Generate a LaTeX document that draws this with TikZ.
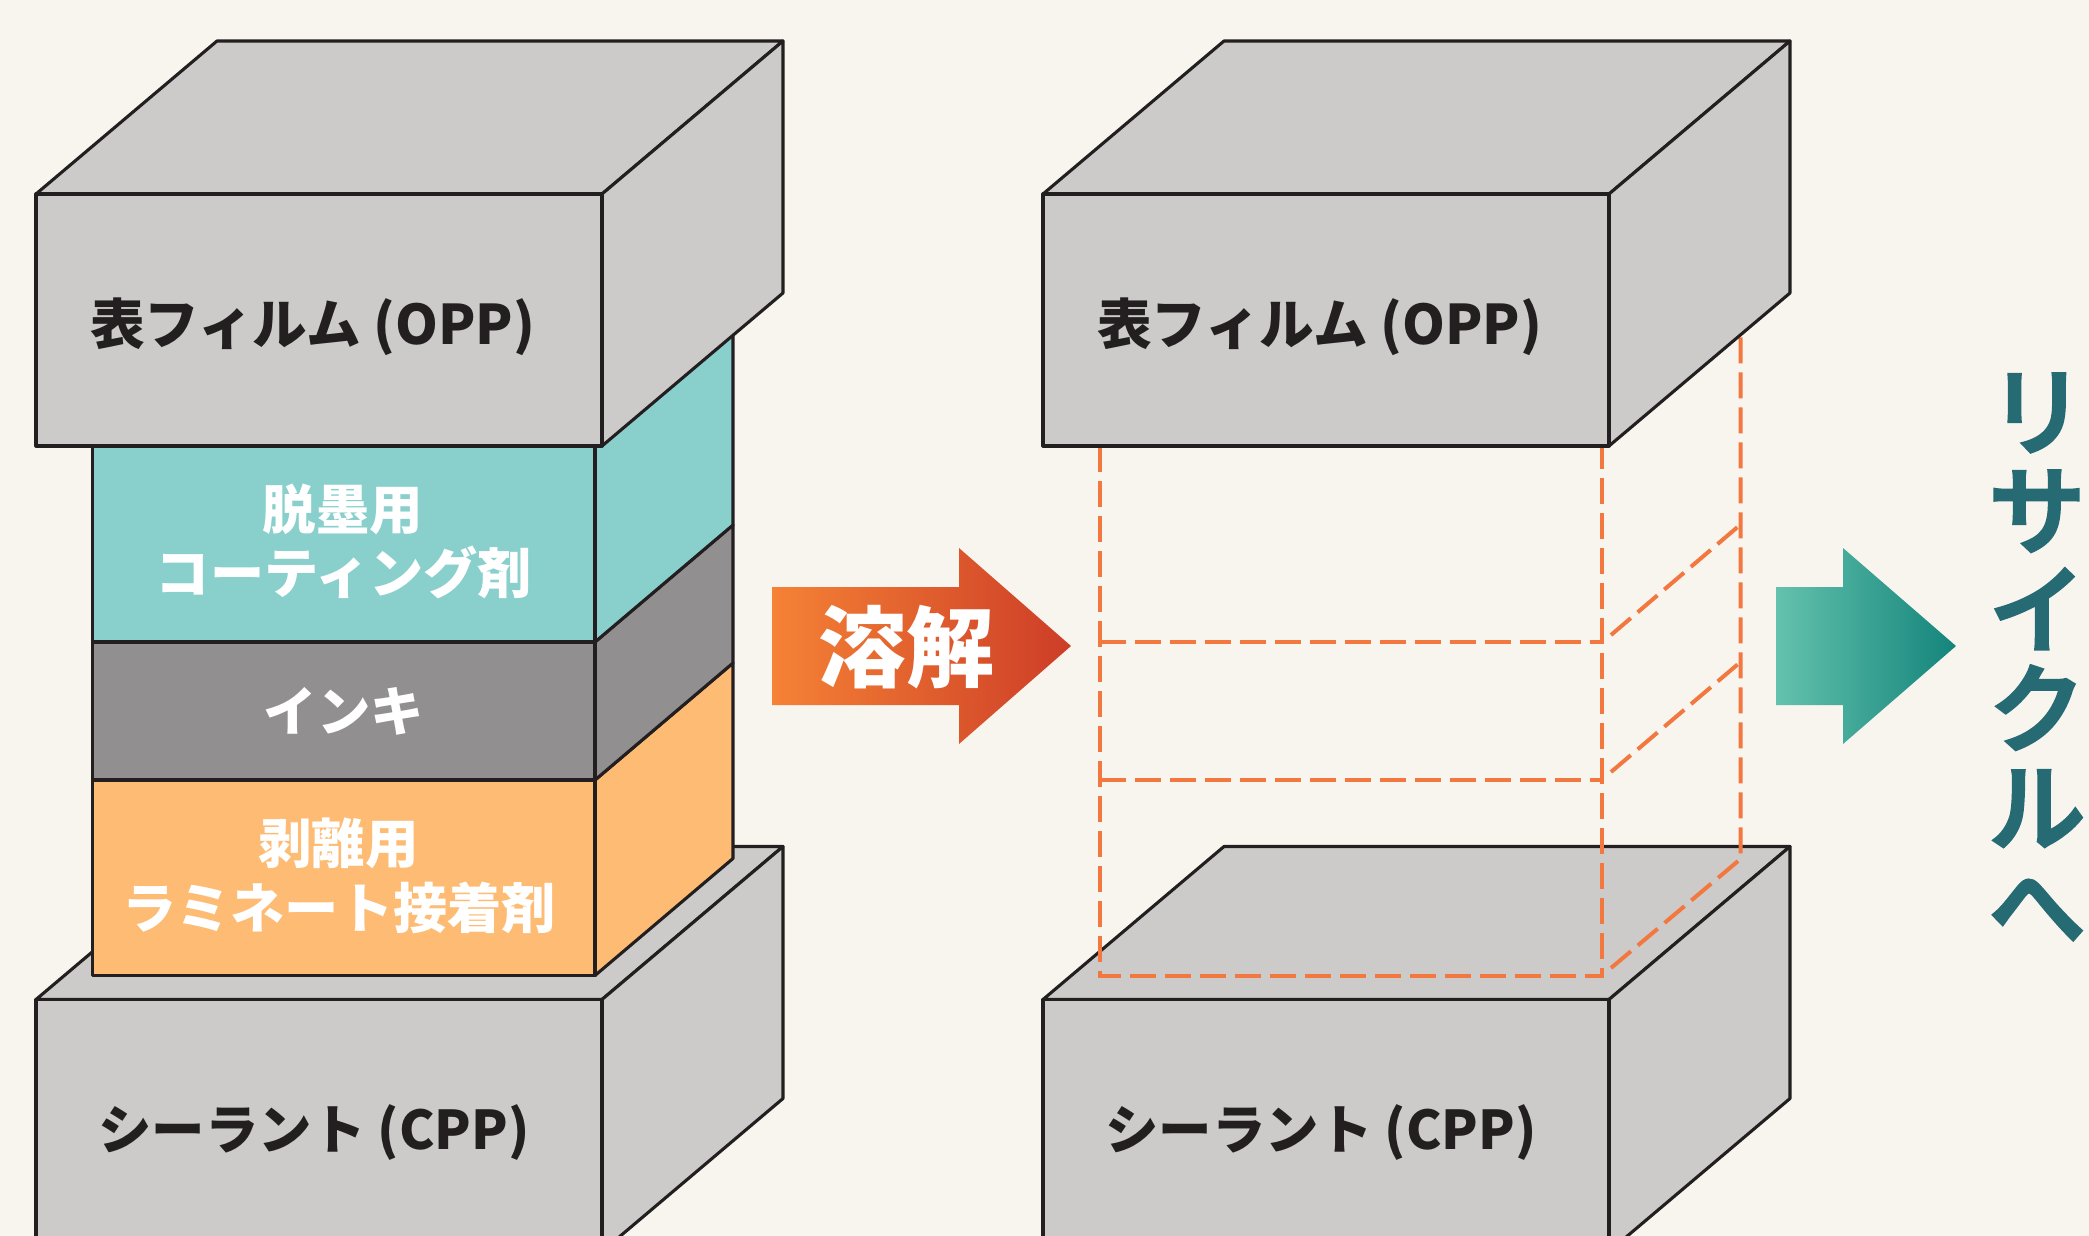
\documentclass[tikz,border=0pt]{standalone}
\usepackage{fontspec}
\setmainfont{Noto Sans CJK JP}
\newfontfamily\jpmed[FakeBold=3.5]{Noto Sans CJK JP Medium}
\definecolor{paper}{HTML}{F8F5EF}
\definecolor{film}{HTML}{CCCBC9}
\definecolor{ink}{HTML}{231F20}
\definecolor{coat}{HTML}{89D0CC}
\definecolor{inkgrey}{HTML}{918F90}
\definecolor{lami}{HTML}{FDBB74}
\definecolor{dashc}{HTML}{F2783F}
\definecolor{recyc}{HTML}{266A73}
\definecolor{oa}{HTML}{F58235}
\definecolor{ob}{HTML}{CD3D27}
\definecolor{ta}{HTML}{63C2AD}
\definecolor{tb}{HTML}{14847B}
\tikzset{
  x=1pt,y=-1pt,
  face/.style={draw=ink,line width=3.1pt,line join=round},
  ghost/.style={draw=dashc,line width=4pt,dash pattern=on 26pt off 9pt},
  filmlabel/.style={text=ink,font=\bfseries\fontsize{54.6}{60}\selectfont,inner sep=0pt},
  seallabel/.style={text=ink,font=\bfseries\fontsize{53.4}{60}\selectfont,inner sep=0pt},
  layerlabel/.style={text=white,font=\bfseries\fontsize{54.2}{60}\selectfont,inner sep=0pt},
  shortlabel/.style={text=white,font=\bfseries\fontsize{53.4}{60}\selectfont,inner sep=0pt},
}
\newcommand{\filmbox}[2]{% x offset, y of front top
  \begin{scope}[shift={(#1,#2)}]
    \path[face,fill=film] (0,0) -- (566,0) -- (747,-153) -- (181,-153) -- cycle;
    \path[face,fill=film] (566,0) -- (747,-153) -- (747,99) -- (566,252) -- cycle;
    \path[face,fill=film] (0,0) rectangle (566,252);
  \end{scope}}
\newcommand{\layerbox}[3]{% y top, y bottom, colour
  \path[face,fill=#3] (595,#1) -- (733,#1-117) -- (733,#2-117) -- (595,#2) -- cycle;
  \path[face,fill=#3] (92.6,#1) rectangle (595,#2);}
\begin{document}
\begin{tikzpicture}
\useasboundingbox (0,0) rectangle (2089,1236);
\clip (0,0) rectangle (2089,1236);
\fill[paper] (0,0) rectangle (2089,1236);
% left stack
\filmbox{36}{999.5}
\layerbox{780}{975.5}{lami}
\layerbox{642}{780}{inkgrey}
\layerbox{446}{642}{coat}
\filmbox{36}{194}
\node[filmlabel] (topL) at (312.5,327) {表フィルム (OPP)};
\node[seallabel] (botL) at (314,1133) {シーラント (CPP)};
\node[shortlabel] (coatA) at (343,509) {脱墨用};
\node[layerlabel] (coatB) at (344,572) {コーティング剤};
\node[shortlabel] (inkL) at (344,711) {インキ};
\node[shortlabel] (lamiA) at (338.5,843.5) {剥離用};
\node[layerlabel] (lamiB) at (339,908) {ラミネート接着剤};
% melt arrow
\shade[left color=oa,right color=ob] (772,587) -- (959,587) -- (959,548) -- (1071,646) -- (959,744) -- (959,705) -- (772,705) -- cycle;
\node[text=white,font=\bfseries\fontsize{88}{90}\selectfont,inner sep=0pt] (melt) at (906,647) {溶解};
% right stack
\filmbox{1043}{999.5}
\draw[ghost] (1099.5,446) -- (1099.5,976) -- (1602,976) -- (1602,446);
\draw[ghost] (1099.5,642) -- (1602,642);
\draw[ghost] (1099.5,780) -- (1602,780);
\draw[ghost] (1611,968) -- (1740.5,859) -- (1740.5,330);
\draw[ghost] (1611,635) -- (1740.5,524.5);
\draw[ghost] (1611,772) -- (1740.5,662);
\filmbox{1043}{194}
\node[filmlabel] (topR) at (1319.5,327) {表フィルム (OPP)};
\node[seallabel] (botR) at (1321,1133) {シーラント (CPP)};
% recycle arrow
\shade[left color=ta,right color=tb] (1776,587) -- (1843,587) -- (1843,548) -- (1956,646) -- (1843,744) -- (1843,705) -- (1776,705) -- cycle;
\node[text=recyc,font=\jpmed\fontsize{96}{99}\selectfont,align=center,inner sep=0pt] (recycle) at (2037,658) {リ\\サ\\イ\\ク\\ル\\へ};
\end{tikzpicture}
\end{document}
